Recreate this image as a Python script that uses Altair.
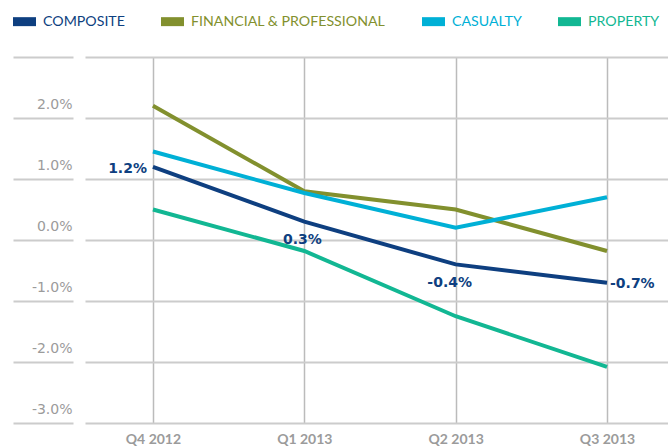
import altair as alt
import pandas as pd

quarters = ["Q4 2012", "Q1 2013", "Q2 2013", "Q3 2013"]
series_names = ["COMPOSITE", "FINANCIAL & PROFESSIONAL", "CASUALTY", "PROPERTY"]
series_colors = ["#0e3f80", "#82902e", "#00b0d6", "#12b793"]

composite = [1.2, 0.3, -0.4, -0.7]
financial = [2.2, 0.8, 0.5, -0.18]
casualty = [1.45, 0.77, 0.2, 0.7]
property_ = [0.5, -0.18, -1.25, -2.08]

y_ticks = [-3, -2, -1, 0, 1, 2, 3]

rows = []
for name, vals in zip(series_names, [composite, financial, casualty, property_]):
    for q, v in zip(quarters, vals):
        rows.append({"quarter": q, "series": name, "value": v})
df = pd.DataFrame(rows)

lab = pd.DataFrame({"quarter": quarters, "value": composite,
                    "label": [f"{v:.1f}%" for v in composite]})

x_enc = alt.X(
    "quarter:N", sort=quarters,
    scale=alt.Scale(type="point", padding=0.426, align=0.527),
    axis=alt.Axis(title=None, domain=False, ticks=False, grid=True,
                  gridColor="#bbbbbb", gridWidth=1.5, labelFont="Lato",
                  labelFontWeight="bold", labelFontSize=14, labelColor="#9b9b9b",
                  labelPadding=9, labelAngle=0),
)
y_enc = alt.Y(
    "value:Q",
    scale=alt.Scale(domain=[-3, 3], nice=False, zero=False),
    axis=alt.Axis(values=y_ticks, title=None, domain=False, grid=True,
                  gridColor="#cccccc", gridWidth=2, ticks=True, tickSize=60,
                  tickColor="#cccccc", tickWidth=2, offset=12, labelPadding=-59,
                  labelAlign="right", labelBaseline="alphabetic", labelOffset=-10,
                  labelExpr="datum.value >= 3 ? '' : replace(format(datum.value, '.1f'), '\u2212', '-') + '%'",
                  labelFont="DejaVu Sans", labelFontSize=14, labelColor="#9b9b9b"),
)

lines = alt.Chart(df).mark_line(strokeWidth=4).encode(
    x=x_enc,
    y=y_enc,
    color=alt.Color(
        "series:N",
        scale=alt.Scale(domain=series_names, range=series_colors),
        legend=alt.Legend(title=None, orient="none", legendX=-72, legendY=-47,
                          direction="horizontal",
                          symbolType="M-1,-0.39H1V0.39H-1Z",
                          symbolSize=529, symbolStrokeWidth=0,
                          symbolFillColor=alt.ExprRef("scale('color', datum.value)"),
                          labelFont="Lato", labelFontSize=14.2,
                          labelColor=alt.ExprRef("scale('color', datum.value)"),
                          labelLimit=400, labelOffset=7, columnPadding=36,
                          padding=0),
    ),
)

placements = [
    (quarters[0], "right", -6, 2),
    (quarters[1], "center", -2, 18),
    (quarters[2], "center", -6, 19),
    (quarters[3], "left", 3, 1),
]
texts = []
for q, al, dx, dy in placements:
    texts.append(
        alt.Chart(lab).transform_filter(alt.datum.quarter == q)
        .mark_text(align=al, baseline="middle", dx=dx, dy=dy, font="DejaVu Sans",
                   fontWeight="bold", fontSize=14, color=series_colors[0])
        .encode(x=x_enc, y=y_enc, text="label:N")
    )

chart = alt.layer(lines, *texts).properties(
    width=583, height=366,
    padding={"left": 85, "top": 57, "right": 0, "bottom": 25},
    autosize=alt.AutoSizeParams(type="none"),
).configure_view(stroke=None)

chart.save("out.html", embed_options={"renderer": "svg", "actions": False})
